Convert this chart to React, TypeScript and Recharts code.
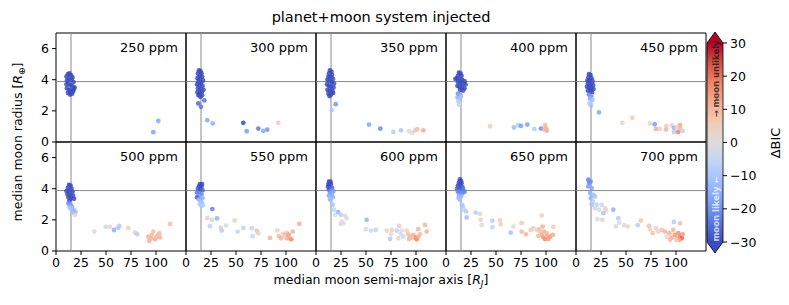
import { ScatterChart, Scatter, XAxis, YAxis, ReferenceLine, ReferenceArea } from "recharts";

const FONT = "DejaVu Sans, Verdana, sans-serif";

// [semi-major axis (R_J), moon radius (R_earth), delta BIC]
const ppm250: number[][] = [
  [10.5, 4.2, -40], [12, 4.35, -40], [13.5, 4.4, -40], [15, 4.3, -40], [16.5, 4.15, -40], [11, 3.95, -40],
  [13, 4.05, -40], [15.5, 4.0, -40], [17.5, 3.85, -40], [10.5, 3.7, -40], [12.5, 3.75, -40], [14.5, 3.65, -40],
  [16.5, 3.55, -40], [18.5, 3.5, -40], [11, 3.45, -40], [13, 3.35, -40], [15, 3.3, -40], [17, 3.25, -40],
  [12, 3.15, -40], [14, 3.05, -40], [16, 3.1, -40], [18, 3.4, -40],
  [97.3, 0.63, -17], [102.3, 1.35, -16],
];

const ppm300: number[][] = [
  [13, 4.6, -40], [14.5, 4.55, -40], [12, 4.4, -40], [15.5, 4.4, -40], [13.5, 4.25, -40], [16, 4.2, -40],
  [11.5, 4.1, -40], [14, 4.05, -40], [17, 3.95, -40], [12.5, 3.9, -40], [15, 3.8, -40], [11, 3.7, -40],
  [13.5, 3.65, -40], [16.5, 3.6, -40], [12, 3.45, -40], [14.5, 3.4, -40], [17.5, 3.35, -40], [11.5, 3.2, -40],
  [13.5, 3.1, -40], [15.5, 3.2, -40], [12.5, 3.0, -40], [14.5, 2.9, -40], [16, 3.0, -40],
  [12.3, 2.48, -26], [15, 2.26, -24], [18.3, 2.67, -24],
  [21.3, 1.4, -16], [26.7, 1.19, -15], [57.3, 1.23, -30], [60.7, 0.69, -18], [72.3, 0.86, -23],
  [77.3, 0.71, -16], [81.3, 0.79, -19], [92.3, 1.23, 5],
];

const ppm350: number[][] = [
  [14, 4.6, -40], [15.5, 4.5, -40], [13, 4.4, -40], [16, 4.3, -40], [12.5, 4.2, -40], [14.5, 4.15, -40],
  [17, 4.05, -40], [11.5, 4.0, -40], [13.5, 3.9, -40], [16, 3.85, -40], [18, 3.75, -40], [11, 3.7, -40],
  [13, 3.6, -40], [15, 3.55, -40], [17.5, 3.5, -40], [11.5, 3.35, -40], [14, 3.3, -40], [16.5, 3.25, -40],
  [12.5, 3.1, -40], [15, 3.05, -40], [13.5, 2.95, -40], [17, 3.15, -40],
  [19.7, 2.43, -19], [15.7, 2.05, -10], [53, 1.12, -17], [64.3, 0.86, -21], [77.3, 0.65, -8],
  [85, 0.75, -10], [93, 0.69, 0], [96.3, 0.58, 0], [99, 0.75, 7], [101.3, 0.82, 9], [107.3, 0.75, 12],
];

const ppm400: number[][] = [
  [13, 4.45, -40], [14.5, 4.4, -40], [12, 4.25, -40], [15.5, 4.25, -40], [9.5, 4.05, -40], [11, 4.1, -40],
  [13.5, 4.0, -40], [16, 4.0, -40], [18.5, 3.9, -40], [12, 3.85, -40], [14.5, 3.8, -40], [17, 3.75, -40],
  [19.5, 3.7, -40], [11.5, 3.6, -40], [13.5, 3.55, -40], [16, 3.5, -40], [18.5, 3.45, -40], [14, 3.35, -40],
  [17, 3.3, -40],
  [12, 3.1, -20], [14.5, 3.0, -16], [11.5, 2.85, -14], [13.5, 2.75, -12], [15, 2.9, -10], [12.5, 2.6, -8],
  [13, 2.4, -6],
  [44, 1.01, 5], [68, 0.93, -12], [72.3, 1.08, -8], [75, 1.03, -18], [81.3, 1.12, -18], [88.3, 0.84, -8],
  [95, 0.86, -20], [99, 1.08, 10], [100, 0.86, 12], [100.7, 0.73, 12], [98.3, 0.8, 10],
];

const ppm450: number[][] = [
  [13, 4.35, -40], [14.5, 4.3, -40], [12.5, 4.15, -40], [15.5, 4.1, -40], [11.5, 3.95, -40], [13.5, 3.95, -40],
  [16.5, 3.9, -40], [12, 3.75, -40], [14.5, 3.7, -40], [17, 3.65, -40], [11, 3.55, -40], [13, 3.5, -40],
  [15.5, 3.45, -40], [17.5, 3.4, -40], [12, 3.3, -40], [14, 3.25, -40], [16, 3.2, -40],
  [13, 3.05, -22], [15.5, 2.95, -18], [14, 2.8, -16], [16.5, 2.7, -12], [14.5, 2.55, -10], [15, 2.35, -12],
  [13.5, 2.45, -8],
  [23, 1.9, -16], [46.3, 1.23, 3], [56.3, 1.55, 6], [74, 1.19, 2], [78.7, 1.14, -18], [80, 0.84, 12],
  [84, 0.84, 4], [90.3, 1.03, 5], [90, 0.8, 10], [95.7, 1.08, 4], [98, 0.91, -14], [98, 0.65, -8],
  [102.3, 0.65, 18], [104, 1.08, 13], [104, 0.86, 10], [106.7, 0.71, -6], [100.7, 0.97, 5],
];

const ppm500: number[][] = [
  [13, 4.25, -40], [14.5, 4.2, -40], [12, 4.05, -40], [15.5, 4.0, -40], [10.5, 3.85, -40], [13, 3.85, -40],
  [16.5, 3.8, -40], [11.5, 3.65, -40], [14, 3.6, -40], [17, 3.55, -40], [12.5, 3.45, -40], [15, 3.4, -40],
  [18, 3.35, -40], [13.5, 3.25, -40],
  [12.5, 3.05, -22], [14.5, 3.0, -18], [16, 2.85, -16], [13.5, 2.8, -12], [15.5, 2.65, -10], [18, 2.6, -14],
  [19.5, 2.5, -12], [17.3, 2.47, -12], [19, 2.32, 4],
  [38.3, 1.25, -2], [49.7, 1.55, -3], [54, 1.55, 3], [58, 1.35, -15], [62.3, 1.5, -10], [63.3, 1.61, -8],
  [72.3, 1.46, 4], [79, 1.18, 6], [81.3, 1.07, -8], [92.3, 0.92, 10], [93.3, 0.65, 11], [95.7, 1.03, 9],
  [97.3, 1.25, 8], [99, 0.75, 12], [100.7, 0.92, 10], [102.3, 1.07, 9], [104, 0.88, 11], [95, 0.82, 10],
  [114, 1.74, 9], [103.3, 1.14, 8],
];

const ppm550: number[][] = [
  [14, 4.3, -35], [16, 4.3, -35], [13, 4.15, -32], [15.5, 4.15, -30], [12, 4.0, -28], [14.5, 3.95, -30],
  [16.5, 3.9, -26], [11, 3.75, -24], [13.5, 3.7, -22], [15.5, 3.65, -20], [12.5, 3.5, -18], [14.5, 3.45, -16],
  [16.5, 3.4, -14], [11, 3.45, -26], [13, 3.3, -14], [15, 3.2, -12], [16, 3.05, -10], [14, 3.0, -10],
  [15.5, 2.9, -8], [17, 2.95, -8],
  [26.3, 2.69, -22], [21.3, 2.11, 5], [26, 2.0, -4], [31, 2.09, -14], [24, 1.59, -6], [34.7, 1.5, 3],
  [35.7, 1.31, -8], [40, 1.63, -2], [48.7, 1.96, 3], [51.7, 1.25, -5], [57.3, 1.48, -6], [65.7, 1.46, -5],
  [66.7, 0.95, -5], [70.7, 1.31, 8], [72.3, 1.14, 4], [84, 0.84, 10], [91.3, 1.33, 5], [92.7, 0.97, 8],
  [95, 0.82, 11], [97.3, 1.1, 5], [99.3, 1.03, 12], [100.7, 1.18, 4], [102.7, 1.05, 14], [104, 0.8, 12],
  [105.3, 0.75, 16], [106.7, 1.25, 10], [113.3, 1.74, 11], [100.7, 0.82, 12], [98, 0.92, 3],
];

const ppm600: number[][] = [
  [13, 4.45, -35], [14.5, 4.45, -35], [12.5, 4.3, -34], [15, 4.3, -33], [12, 4.15, -30], [14, 4.1, -30],
  [16, 4.05, -26], [13, 3.95, -28], [15.5, 3.9, -22], [17.5, 3.85, -18], [14, 3.75, -20], [16, 3.7, -16],
  [13, 3.55, -16], [15, 3.5, -14], [17, 3.45, -14], [14, 3.3, -12],
  [14.7, 3.29, -12], [16.7, 2.97, -10], [18, 2.65, -6], [19, 2.32, -1], [22.3, 2.5, -14], [25, 2.32, -8],
  [29, 2.26, 2], [30.7, 2.09, 0], [25.7, 1.89, -1], [24.7, 1.74, 3], [27.3, 1.78, 0],
  [50.7, 2.0, -14], [50, 1.4, 2], [55, 1.31, -2], [59.7, 1.35, -6], [70.7, 1.31, 4], [74, 0.77, -8],
  [75.7, 1.35, 5], [80.7, 1.31, -6], [83.3, 1.61, 6], [84.7, 1.1, -1], [82.3, 0.82, 3], [85.7, 1.31, 1],
  [90.7, 1.31, 5], [92.3, 1.07, 9], [94, 0.88, 10], [97.3, 1.03, 11], [99, 0.88, 16], [100.7, 0.75, 18],
  [102.3, 0.92, 12], [102.3, 1.4, 10], [104, 1.07, 9], [109, 1.67, 10], [110.7, 1.25, 11], [95.7, 0.86, 8],
  [87.3, 0.92, -5], [93, 0.77, 9], [75, 1.07, 0],
];

const ppm650: number[][] = [
  [14, 4.6, -35], [15, 4.5, -35], [13, 4.4, -33], [15.5, 4.35, -32], [12, 4.2, -30], [14, 4.2, -32],
  [16.5, 4.1, -28], [11, 4.0, -26], [13, 4.0, -28], [15, 3.95, -26], [17.5, 3.9, -24], [12, 3.8, -22],
  [14, 3.75, -22], [16, 3.7, -20], [18.5, 3.8, -22], [13, 3.55, -16], [15, 3.5, -14], [12.5, 3.4, -12],
  [14, 3.29, -12], [15.7, 2.97, -8], [16.7, 2.86, -10], [18, 2.65, -6], [20, 2.54, -8], [20.7, 2.15, -12],
  [29.7, 2.47, -8], [34, 2.39, 3], [34.7, 2.0, 4], [35.7, 1.66, 0], [46.3, 1.94, -8], [46.3, 1.53, -6],
  [54, 1.96, 5], [54.7, 1.7, 4], [64.7, 1.18, -10], [67.3, 1.57, 1], [75.7, 1.79, 6], [75.7, 1.25, 9],
  [80, 1.07, 10], [84.7, 1.35, 6], [87.3, 1.46, 3], [90.7, 1.35, 1], [94, 1.25, 6], [95.7, 2.28, 3],
  [96.7, 1.57, 10], [95.7, 1.03, 12], [97.3, 0.88, 14], [99, 0.77, 16], [100.7, 0.97, 12], [102.3, 0.77, 14],
  [104, 0.92, 15], [106.7, 1.03, 12], [107.3, 1.55, 6], [98, 1.25, 11], [93.3, 1.4, 8], [92.3, 0.97, 9],
  [100.7, 1.14, 10],
];

const ppm700: number[][] = [
  [12.3, 4.58, -22], [13.3, 4.37, -22], [14.7, 4.47, -20], [12.3, 4.15, -18], [15.7, 4.04, -16], [14, 3.72, -14],
  [17.3, 3.61, -12], [19, 3.5, -10], [14.7, 3.4, -14], [16.7, 3.18, -8], [15.7, 2.97, -10], [20.7, 2.97, -6],
  [25.7, 2.97, -4], [19, 2.75, -3], [23.3, 2.65, -2], [29, 2.75, 3], [30, 2.6, 4], [27.3, 2.43, -10],
  [21.3, 2.04, -1], [26.3, 2.0, 4], [37.3, 2.65, -14], [42.3, 2.11, -8], [43.3, 1.83, -2], [40, 1.59, 0],
  [48, 1.66, -1], [51.7, 1.57, 4], [61.7, 1.66, -8], [64.7, 1.96, 7], [73, 1.61, 8], [74, 1.4, 5],
  [76.7, 1.14, 8], [80, 1.46, 5], [82.3, 1.25, 3], [85.7, 1.35, 8], [89, 1.25, 10], [90.7, 0.92, 1],
  [93.3, 1.14, 11], [95.7, 0.86, 12], [98, 1.87, -8], [97.3, 1.35, 10], [99, 1.03, 15], [100.7, 0.82, 12],
  [102.3, 1.14, 16], [104, 1.78, 9], [104, 0.92, 17], [105.7, 0.82, 22], [106.7, 1.07, 15], [103.3, 0.72, 13],
  [100, 0.72, 5], [94, 0.72, 9],
];

const panelLabels = ["250 ppm", "300 ppm", "350 ppm", "400 ppm", "450 ppm", "500 ppm", "550 ppm", "600 ppm", "650 ppm", "700 ppm"];
const panelData = [ppm250, ppm300, ppm350, ppm400, ppm450, ppm500, ppm550, ppm600, ppm650, ppm700];

const xTicks = [0, 25, 50, 75, 100];
const yTicks = [0, 2, 4, 6];
const cbarTicks = [30, 20, 10, 0, -10, -20, -30];
const neptuneRadius = 3.88;
const refAxis = 15;

const coolwarmStops = ["#3b4cc0", "#5977e3", "#7b9ff9", "#9ebeff", "#c0d4f5", "#dddcdc", "#f2cbb7", "#f7ac8e", "#ee8468", "#d65244", "#b40426"];

function hexToRgb(h: string) {
  return [1, 3, 5].map((i) => parseInt(h.slice(i, i + 2), 16));
}

function coolwarm(v: number) {
  const t = (Math.min(30, Math.max(-30, v)) + 30) / 60 * 10;
  const i = Math.min(9, Math.floor(t));
  const f = t - i;
  const a = hexToRgb(coolwarmStops[i]);
  const b = hexToRgb(coolwarmStops[i + 1]);
  const c = a.map((x, k) => Math.round(x + (b[k] - x) * f));
  return `rgb(${c[0]},${c[1]},${c[2]})`;
}

const PW = 130;
const PH = 109;
const X0 = 56;
const ROW_TOP = [33, 142];

const tickStyle = { fill: "#000", fontSize: 12.5, fontFamily: FONT };

const Dot = (props: any) => (
  <circle cx={props.cx} cy={props.cy} r={2.4} fill={coolwarm(props.payload.bic)} fillOpacity={0.85} />
);

function Panel({ idx }: { idx: number }) {
  const col = idx % 5;
  const row = Math.floor(idx / 5);
  const data = panelData[idx].map(([a, r, bic]) => ({ a, r, bic }));
  return (
    <div style={{ position: "absolute", left: X0 + col * PW - 30, top: ROW_TOP[row] - 5 }}>
      <ScatterChart width={PW + 35} height={PH + 30} margin={{ top: 5, right: 5, left: 0, bottom: 0 }}>
        <XAxis
          type="number"
          dataKey="a"
          domain={[0, 130]}
          ticks={xTicks}
          interval={0}
          allowDataOverflow
          height={25}
          axisLine={false}
          stroke="#000"
          tickLine={{ stroke: "#000" }}
          tickSize={4}
          tickMargin={3}
          tick={row === 1 ? tickStyle : false}
        />
        <YAxis
          type="number"
          dataKey="r"
          domain={[0, 7]}
          ticks={yTicks}
          interval={0}
          allowDataOverflow
          width={30}
          axisLine={false}
          stroke="#000"
          tickLine={{ stroke: "#000" }}
          tickSize={4}
          tickMargin={3}
          tick={col === 0 ? tickStyle : false}
        />
        <Scatter data={data} isAnimationActive={false} shape={Dot} />
        <ReferenceLine y={neptuneRadius} stroke="#8a8a8a" strokeWidth={1} />
        <ReferenceLine x={refAxis} stroke="#8a8a8a" strokeWidth={1} />
        <ReferenceArea x1={0} x2={130} y1={0} y2={7} fill="none" fillOpacity={0} stroke="#000" strokeWidth={1} />
      </ScatterChart>
    </div>
  );
}

const CB_X = 707;
const CB_W = 16;
const CB_TOP = 43;
const CB_BOT = 242;
const cbY = (v: number) => CB_TOP + ((30 - v) / 60) * (CB_BOT - CB_TOP);

function Overlay() {
  return (
    <svg width={789} height={305} style={{ position: "absolute", left: 0, top: 0 }} fontFamily={FONT}>
      <defs>
        <linearGradient id="cw" x1="0" y1="0" x2="0" y2="1">
          {coolwarmStops.slice().reverse().map((c, i) => (
            <stop key={i} offset={i / 10} stopColor={c} />
          ))}
        </linearGradient>
      </defs>
      <text x={381} y={22} textAnchor="middle" fontSize={14.5} fill="#000">planet+moon system injected</text>
      {panelLabels.map((lab, i) => (
        <text key={lab} x={X0 + (i % 5) * PW + PW - 8} y={ROW_TOP[Math.floor(i / 5)] + 19} textAnchor="end" fontSize={13} fill="#000">
          {lab}
        </text>
      ))}
      <text x={381} y={284} textAnchor="middle" fontSize={12.5} fill="#000">
        median moon semi-major axis [<tspan fontStyle="italic">R</tspan>
        <tspan fontStyle="italic" fontSize={9} dy={3}>J</tspan>
        <tspan dy={-3}>]</tspan>
      </text>
      <text transform="translate(22,142) rotate(-90)" textAnchor="middle" fontSize={12.5} fill="#000">
        median moon radius [<tspan fontStyle="italic">R</tspan>
        <tspan fontSize={9} dy={3}>⊕</tspan>
        <tspan dy={-3}>]</tspan>
      </text>
      <rect x={CB_X} y={CB_TOP} width={CB_W} height={CB_BOT - CB_TOP} fill="url(#cw)" />
      <polygon points={`${CB_X},${CB_TOP} ${CB_X + CB_W},${CB_TOP} ${CB_X + CB_W / 2},${CB_TOP - 11}`} fill="#b40426" />
      <polygon points={`${CB_X},${CB_BOT} ${CB_X + CB_W},${CB_BOT} ${CB_X + CB_W / 2},${CB_BOT + 11}`} fill="#3b4cc0" />
      <polygon
        points={`${CB_X},${CB_TOP} ${CB_X + CB_W / 2},${CB_TOP - 11} ${CB_X + CB_W},${CB_TOP} ${CB_X + CB_W},${CB_BOT} ${CB_X + CB_W / 2},${CB_BOT + 11} ${CB_X},${CB_BOT}`}
        fill="none"
        stroke="#000"
        strokeWidth={0.8}
      />
      {cbarTicks.map((v) => (
        <g key={v}>
          <line x1={CB_X + CB_W} x2={CB_X + CB_W + 4} y1={cbY(v)} y2={cbY(v)} stroke="#000" />
          <text x={CB_X + CB_W + 7} y={cbY(v)} dominantBaseline="central" fontSize={12.5} fill="#000">
            {v < 0 ? `\u2212${-v}` : v}
          </text>
        </g>
      ))}
      <text transform="translate(775,143) rotate(-90)" textAnchor="middle" dominantBaseline="central" fontSize={13} fill="#000">
        ΔBIC
      </text>
      <text transform={`translate(${CB_X + CB_W / 2 + 1},79) rotate(-90)`} textAnchor="middle" dominantBaseline="central" fontSize={8.5} fontWeight="bold" fill="#1a1a1a" fillOpacity={0.8}>
        → moon unlikely
      </text>
      <text transform={`translate(${CB_X + CB_W / 2 + 1},209) rotate(-90)`} textAnchor="middle" dominantBaseline="central" fontSize={8.5} fontWeight="bold" fill="#ffffff" fillOpacity={0.75}>
        moon likely ←
      </text>
    </svg>
  );
}

export default function App() {
  return (
    <div style={{ position: "absolute", left: 0, top: 0, width: 789, height: 305, background: "#fff", fontFamily: FONT }}>
      {panelData.map((_, i) => (
        <Panel key={i} idx={i} />
      ))}
      <Overlay />
    </div>
  );
}
